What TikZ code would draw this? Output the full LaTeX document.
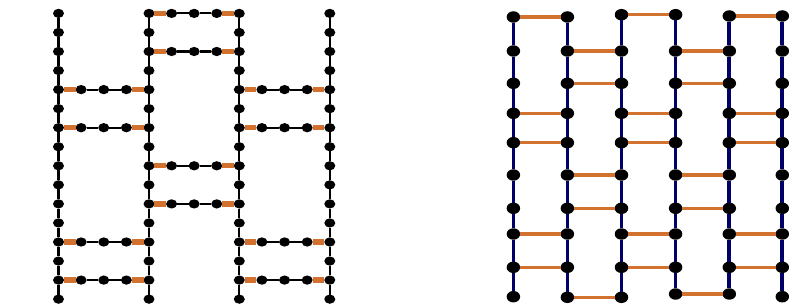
\documentclass[tikz,border=0pt]{standalone}
\usetikzlibrary{positioning, shapes.geometric}
\definecolor{figink}{HTML}{000000}
\definecolor{rungorange}{HTML}{D2722E}
\definecolor{railnavy}{HTML}{000066}

\begin{document}
\begin{tikzpicture}[
  x=0.02cm, y=-0.02cm,
  line cap=butt, line join=round,
  dotL/.style = {ellipse, fill=figink, draw=none, inner sep=0pt, outer sep=0pt,
                 minimum width=0.22cm, minimum height=0.185cm},
  dotR/.style = {ellipse, fill=figink, draw=none, inner sep=0pt, outer sep=0pt,
                 minimum width=0.27cm, minimum height=0.23cm},
  linkL/.style = {draw=figink, line width=1.2pt},
  rungL/.style = {draw=rungorange, line width=3pt},
  rail/.style  = {draw=railnavy, line width=2.1pt},
  rungR/.style = {draw=rungorange, line width=2pt}
]
\useasboundingbox (0,0) rectangle (789,304);

% 左图：四根竖链 16 个点
\foreach \c/\x in {0/58.5,1/149,2/239.3,3/329.8}{
  \foreach \r in {0,...,15}
    \node[dotL] (L\c-\r) at (\x,{13.4+19.05*\r}) {};
  \foreach \r [count=\s from 1] in {0,...,14}
    \draw[linkL] (L\c-\r) -- (L\c-\s);
}

% 左图横档：两端橙色，中间三个点
\foreach \a/\b/\r in {0/1/4, 0/1/6, 0/1/12, 0/1/14,
                      1/2/0, 1/2/2, 1/2/8, 1/2/10,
                      2/3/4, 2/3/6, 2/3/12, 2/3/14}{
  \path (L\a-\r.center) -- node[dotL, pos=0.25] (M\a-\r-1) {}
                           node[dotL, pos=0.5]  (M\a-\r-2) {}
                           node[dotL, pos=0.75] (M\a-\r-3) {} (L\b-\r.center);
  \draw[rungL] (L\a-\r) -- (M\a-\r-1);
  \draw[linkL] (M\a-\r-1) -- (M\a-\r-2) -- (M\a-\r-3);
  \draw[rungL] (M\a-\r-3) -- (L\b-\r);
}

% 右图：六根深蓝竖链，首末点高度各异
\foreach \c/\x/\t/\e in {0/513.4/17/296.7, 1/567.4/17/297.3, 2/621.5/14.7/297.3,
                         3/675.6/14.7/294, 4/729.3/16/294, 5/782.3/16/296.7}{
  \node[dotR] (R\c-0) at (\x,\t) {};
  \foreach \r/\y in {1/51, 2/83.3, 3/113.3, 4/142.7, 5/175, 6/208.3, 7/234, 8/267.3}
    \node[dotR] (R\c-\r) at (\x,\y) {};
  \node[dotR] (R\c-9) at (\x,\e) {};
  \foreach \r [count=\s from 1] in {0,...,8}
    \draw[rail] (R\c-\r) -- (R\c-\s);
}

% 右图横档
\foreach \r in {0,3,4,7,8}{
  \draw[rungR] (R0-\r) -- (R1-\r);
  \draw[rungR] (R2-\r) -- (R3-\r);
  \draw[rungR] (R4-\r) -- (R5-\r);
}
\foreach \r in {1,2,5,6,9}{
  \draw[rungR] (R1-\r) -- (R2-\r);
  \draw[rungR] (R3-\r) -- (R4-\r);
}

\end{tikzpicture}
\end{document}
